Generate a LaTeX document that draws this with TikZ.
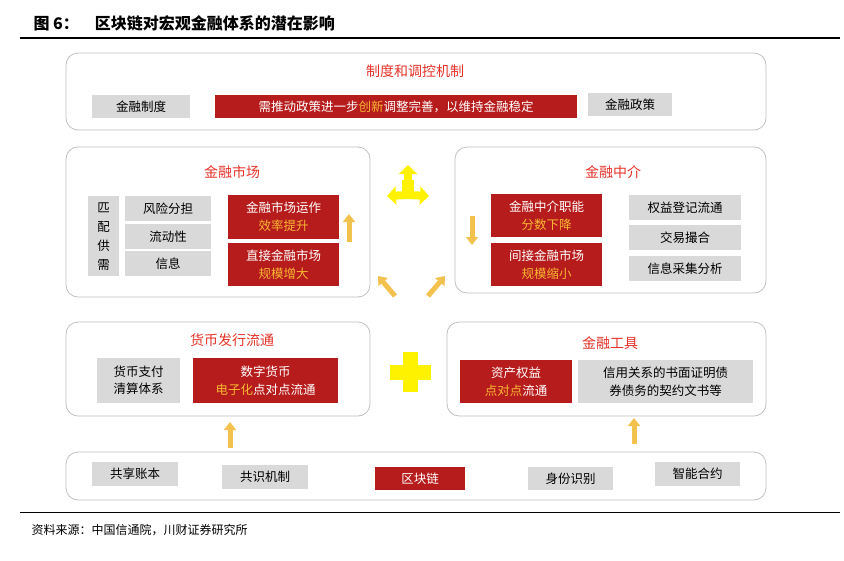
\documentclass[tikz,border=0pt]{standalone}
\usepackage{fontspec}
\setmainfont{Noto Sans CJK SC}
\usetikzlibrary{arrows.meta}
\definecolor{boxred}{HTML}{B71C1C}
\definecolor{titred}{HTML}{E53228}
\definecolor{gold}{HTML}{F7B733}
\definecolor{gr}{HTML}{D9D9D9}
\definecolor{arr}{HTML}{F2C14E}
\definecolor{yel}{HTML}{FFF200}
\tikzset{
 outer/.style={draw=gray!50,line width=0.8pt,rounded corners=12pt},
 gbox/.style={fill=gr,inner sep=0pt,font=\fontsize{12.5}{15}\selectfont},
 rbox/.style={fill=boxred,text=white,inner sep=0pt,align=center,font=\fontsize{12.5}{18}\selectfont},
 ttl/.style={text=titred,font=\fontsize{14}{16}\selectfont},
 uparr/.style={draw=arr,line width=5pt,-{Triangle[length=8pt,width=12pt]}},
 yarr/.style={draw=yel,line width=8pt,-{Triangle[length=9pt,width=18pt]}},
}
\begin{document}
\begin{tikzpicture}[x=1pt,y=-1pt]
\useasboundingbox (0,0) rectangle (844,560);
\node[anchor=west,font=\bfseries\fontsize{16}{18}\selectfont] (title) at (30,23) {图 6：\quad 区块链对宏观金融体系的潜在影响};
\draw[line width=1.2pt] (20,38) -- (840,38);
\draw[line width=0.8pt] (20,512) -- (840,512);
\node[anchor=west,font=\itshape\fontsize{12}{14}\selectfont] (src) at (28,530) {资料来源：中国信通院，川财证券研究所};
% box 1
\draw[outer] (66,53) rectangle (766,130);
\node[ttl] (t1) at (415,71) {制度和调控机制};
\node[gbox,minimum width=98,minimum height=23,anchor=north west] (a1) at (92,95) {金融制度};
\node[rbox,minimum width=362,minimum height=23,anchor=north west] (a2) at (215,95) {需推动政策进一步{\color{gold}创新}调整完善，以维持金融稳定};
\node[gbox,minimum width=84,minimum height=23,anchor=north west] (a3) at (588,93) {金融政策};
% market
\draw[outer] (66,147) rectangle (370,297);
\node[ttl] (t2) at (232,172) {金融市场};
\node[gbox,minimum width=31,minimum height=80,anchor=north west,align=center,font=\fontsize{12.5}{19}\selectfont] (m0) at (88,196) {匹\\配\\供\\需};
\node[gbox,minimum width=86,minimum height=25,anchor=north west] (m1) at (125,196) {风险分担};
\node[gbox,minimum width=86,minimum height=25,anchor=north west] (m2) at (125,224) {流动性};
\node[gbox,minimum width=86,minimum height=25,anchor=north west] (m3) at (125,251) {信息};
\node[rbox,minimum width=111,minimum height=44,anchor=north west] (m4) at (228,195) {金融市场运作\\{\color{gold}效率提升}};
\node[rbox,minimum width=111,minimum height=43,anchor=north west] (m5) at (228,243) {直接金融市场\\{\color{gold}规模增大}};
\coordinate (ua1) at (349,242); \coordinate (ua2) at (349,214);
\draw[uparr] (ua1) -- (ua2);
% intermediary
\draw[outer] (455,147) rectangle (766,293);
\node[ttl] (t3) at (613,172) {金融中介};
\node[rbox,minimum width=111,minimum height=43,anchor=north west] (i1) at (491,194) {金融中介职能\\{\color{gold}分数下降}};
\node[rbox,minimum width=111,minimum height=43,anchor=north west] (i2) at (491,243) {间接金融市场\\{\color{gold}规模缩小}};
\node[gbox,minimum width=112,minimum height=25,anchor=north west] (i3) at (629,195) {权益登记流通};
\node[gbox,minimum width=112,minimum height=25,anchor=north west] (i4) at (629,225) {交易撮合};
\node[gbox,minimum width=112,minimum height=25,anchor=north west] (i5) at (629,256) {信息采集分析};
\coordinate (da1) at (472,216); \coordinate (da2) at (472,245);
\draw[uparr] (da1) -- (da2);
% three-way arrow
\coordinate (c3) at (408,196);
\coordinate (c3u) at (408,165); \coordinate (c3l) at (387,196); \coordinate (c3r) at (429,196);
\fill[yel] (402,198) rectangle (414,180);
\draw[yarr] (408,190) -- (c3u);
\draw[yarr] (408,195) -- (c3l);
\draw[yarr] (408,195) -- (c3r);
\coordinate (dl1) at (395,296); \coordinate (dl2) at (378,276);
\coordinate (dr1) at (428,296); \coordinate (dr2) at (445,276);
\draw[uparr] (dl1) -- (dl2);
\draw[uparr] (dr1) -- (dr2);
% currency
\draw[outer] (66,322) rectangle (370,416);
\node[ttl] (t4) at (232,340) {货币发行流通};
\node[gbox,minimum width=83,minimum height=45,anchor=north west,align=center,font=\fontsize{12.5}{17}\selectfont] (c1) at (97,358) {货币支付\\清算体系};
\node[rbox,minimum width=145,minimum height=45,anchor=north west] (c2) at (193,358) {数字货币\\{\color{gold}电子化}点对点流通};
% plus
\fill[yel] (403,352) rectangle (418,392);
\fill[yel] (390,365) rectangle (431,380);
% tools
\draw[outer] (447,322) rectangle (766,416);
\node[ttl] (t5) at (610,343) {金融工具};
\node[rbox,minimum width=112,minimum height=43,anchor=north west] (f1) at (460,360) {资产权益\\{\color{gold}点对点}流通};
\node[gbox,minimum width=175,minimum height=43,anchor=north west,align=center,font=\fontsize{12.5}{18}\selectfont] (f2) at (578,360) {信用关系的书面证明债\\券债务的契约文书等};
% up arrows
\coordinate (b1) at (230,448); \coordinate (b2) at (230,422);
\coordinate (b3) at (634,444); \coordinate (b4) at (634,418);
\draw[uparr] (b1) -- (b2);
\draw[uparr] (b3) -- (b4);
% bottom
\draw[outer] (66,452) rectangle (766,500);
\node[gbox,minimum width=86,minimum height=24,anchor=north west] (z1) at (92,462) {共享账本};
\node[gbox,minimum width=86,minimum height=24,anchor=north west] (z2) at (222,465) {共识机制};
\node[rbox,minimum width=90,minimum height=23,anchor=north west] (z3) at (375,467) {区块链};
\node[gbox,minimum width=85,minimum height=23,anchor=north west] (z4) at (528,467) {身份识别};
\node[gbox,minimum width=85,minimum height=24,anchor=north west] (z5) at (655,462) {智能合约};
\end{tikzpicture}
\end{document}
